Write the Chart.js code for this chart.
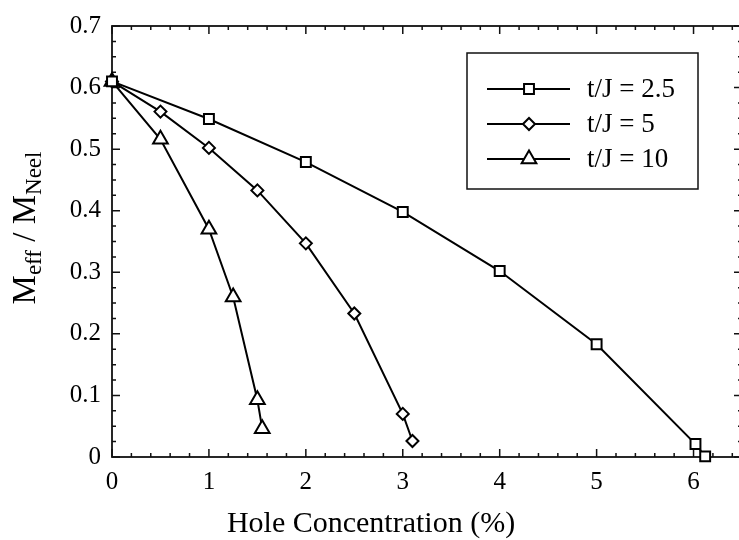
<!DOCTYPE html>
<html><head><meta charset="utf-8">
<script src="https://cdn.jsdelivr.net/npm/chart.js@4/dist/chart.umd.min.js"></script>
<style>html,body{margin:0;padding:0;background:#fff;overflow:hidden}#wrap{width:760px;height:540px}</style>
</head><body><div id="wrap"><canvas id="c"></canvas></div>
<script>
// ---- data ----
const seriesLabels = ['t/J = 2.5', 't/J = 5', 't/J = 10'];
const xSquare = [0, 1, 2, 3, 4, 5, 6.02, 6.12];
const ySquare = [0.61, 0.549, 0.479, 0.398, 0.302, 0.183, 0.021, 0.001];
const xDiamond = [0, 0.5, 1, 1.5, 2, 2.5, 3, 3.1];
const yDiamond = [0.61, 0.561, 0.502, 0.433, 0.347, 0.233, 0.070, 0.026];
const xTriangle = [0, 0.5, 1, 1.25, 1.5, 1.55];
const yTriangle = [0.61, 0.516, 0.370, 0.260, 0.093, 0.046];
const xTickLabels = ['0', '1', '2', '3', '4', '5', '6'];
const yTickLabels = ['0', '0.1', '0.2', '0.3', '0.4', '0.5', '0.6', '0.7'];
const xTitle = 'Hole Concentration (%)';
const yTitleParts = [['M', false], ['eff', true], [' / ', false], ['M', false], ['Neel', true]];

const FONT = "'Liberation Serif', 'DejaVu Serif', serif";
const styles = [
  {pointStyle: 'rect', radius: 7},
  {pointStyle: 'rectRot', radius: 6},
  {pointStyle: 'triangle', radius: 8.5}
];
const xs = [xSquare, xDiamond, xTriangle];
const ys = [ySquare, yDiamond, yTriangle];

const datasets = seriesLabels.map((lab, i) => ({
  label: lab,
  data: xs[i].map((v, j) => ({x: v, y: ys[i][j]})),
  borderColor: '#000',
  borderWidth: 2,
  pointStyle: styles[i].pointStyle,
  pointRadius: styles[i].radius,
  pointHoverRadius: styles[i].radius,
  pointBackgroundColor: '#fff',
  pointBorderColor: '#000',
  pointBorderWidth: 2,
  tension: 0,
  fill: false,
  clip: false
}));

const framePlugin = {
  id: 'frame',
  beforeDatasetsDraw(chart) {
    const {ctx, chartArea: a, scales: {x, y}} = chart;
    ctx.save();
    ctx.strokeStyle = '#111';
    ctx.lineWidth = 1.5;
    ctx.beginPath();
    for (let i = 0; i <= 32; i++) {
      const px = x.getPixelForValue(i * 0.2);
      if (px > a.right + 0.5) break;
      const len = (i % 5 === 0) ? 8 : 4;
      ctx.moveTo(px, a.bottom); ctx.lineTo(px, a.bottom - len);
      ctx.moveTo(px, a.top); ctx.lineTo(px, a.top + len);
    }
    for (let i = 0; i <= 28; i++) {
      const py = y.getPixelForValue(i * 0.025);
      const len = (i % 4 === 0) ? 8 : 4;
      ctx.moveTo(a.left, py); ctx.lineTo(a.left + len, py);
      ctx.moveTo(a.right, py); ctx.lineTo(a.right - len, py);
    }
    ctx.stroke();
    ctx.lineWidth = 1.8;
    ctx.strokeRect(a.left, a.top, a.right - a.left, a.bottom - a.top);
    ctx.restore();
  },
  afterDraw(chart) {
    const {ctx} = chart;
    ctx.save();
    // legend box
    ctx.strokeStyle = '#111';
    ctx.lineWidth = 1.5;
    ctx.strokeRect(467, 53, 231, 136);
    const rowsY = [89, 124, 159];
    seriesLabels.forEach((lab, i) => {
      const yy = rowsY[i];
      ctx.strokeStyle = '#000';
      ctx.lineWidth = 2;
      ctx.beginPath(); ctx.moveTo(487, yy); ctx.lineTo(570, yy); ctx.stroke();
      ctx.fillStyle = '#fff';
      ctx.strokeStyle = '#000';
      ctx.lineWidth = 2;
      Chart.helpers.drawPoint(ctx, {pointStyle: styles[i].pointStyle, radius: styles[i].radius, rotation: 0, borderWidth: 2}, 529, yy);
      ctx.fillStyle = '#000';
      ctx.font = '27px ' + FONT;
      ctx.textBaseline = 'middle';
      ctx.textAlign = 'left';
      ctx.fillText(lab, 587, yy + 1);
    });
    // x title
    ctx.fillStyle = '#000';
    ctx.font = '30px ' + FONT;
    ctx.textAlign = 'center';
    ctx.textBaseline = 'alphabetic';
    ctx.fillText(xTitle, 371, 532);
    // y title (rotated, with subscripts)
    ctx.translate(35, 228);
    ctx.rotate(-Math.PI / 2);
    ctx.textAlign = 'left';
    let total = 0;
    const measured = yTitleParts.map(([t, sub]) => {
      ctx.font = (sub ? '23px ' : '33px ') + FONT;
      const w = ctx.measureText(t).width;
      total += w;
      return w;
    });
    let cx = -total / 2;
    yTitleParts.forEach(([t, sub], k) => {
      ctx.font = (sub ? '23px ' : '33px ') + FONT;
      ctx.fillText(t, cx, sub ? 6 : 0);
      cx += measured[k];
    });
    ctx.restore();
  }
};

new Chart(document.getElementById('c'), {
  type: 'line',
  data: {datasets},
  plugins: [framePlugin],
  options: {
    responsive: true,
    maintainAspectRatio: false,
    animation: false,
    events: [],
    layout: {padding: {top: 13, right: 18, left: 0, bottom: 0}},
    plugins: {legend: {display: false}, tooltip: {enabled: false}, title: {display: false}},
    scales: {
      x: {
        type: 'linear', min: 0, max: 6.5,
        grid: {display: false, drawTicks: false},
        border: {display: false},
        afterFit: s => { s.height = 83; },
        ticks: {
          stepSize: 1, includeBounds: false, padding: 10, color: '#000',
          font: {family: FONT, size: 25},
          callback: (v) => { const i = Math.round(v); return (Math.abs(v - i) < 1e-6 && xTickLabels[i] !== undefined) ? xTickLabels[i] : ''; }
        }
      },
      y: {
        type: 'linear', min: 0, max: 0.7,
        grid: {display: false, drawTicks: false},
        border: {display: false},
        afterFit: s => { s.width = 112; },
        ticks: {
          stepSize: 0.1, padding: 11, color: '#000',
          font: {family: FONT, size: 25},
          callback: (v) => { const i = Math.round(v * 10); return (Math.abs(v * 10 - i) < 1e-6 && yTickLabels[i] !== undefined) ? yTickLabels[i] : ''; }
        }
      }
    }
  }
});
</script>
</body></html>
